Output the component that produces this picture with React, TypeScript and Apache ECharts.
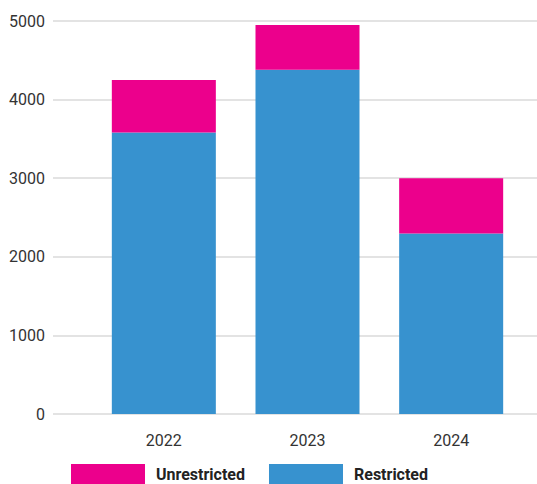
import React, { useEffect, useRef } from "react";
import * as echarts from "echarts";

const years = ["2022", "2023", "2024"];
const restricted = [3580, 4380, 2295];
const unrestricted = [670, 570, 705];
const yTicks = { min: 0, max: 5000, interval: 1000 };

const PINK = "#EC008C";
const BLUE = "#3792CF";
const FONT = "Roboto";

export default function App() {
  const ref = useRef<HTMLDivElement>(null);
  useEffect(() => {
    if (!ref.current) return;
    const chart = echarts.init(ref.current, undefined, { renderer: "svg" });
    chart.setOption({
      animation: false,
      textStyle: { fontFamily: FONT },
      grid: [
        { left: 53, right: 0, top: 21, bottom: 70 },
        { left: 92, right: 14, top: 21, bottom: 70 },
      ],
      legend: {
        data: ["Unrestricted", "Restricted"],
        left: 71,
        top: 464,
        padding: 0,
        itemWidth: 74,
        itemHeight: 20,
        itemGap: 24,
        icon: "rect",
        textStyle: {
          fontFamily: FONT,
          fontWeight: "bold",
          fontSize: 16,
          color: "#222",
          padding: [6, 0, 0, 6],
        },
      },
      xAxis: [
        { type: "category", gridIndex: 0, data: years, show: false },
        {
          type: "category",
          gridIndex: 1,
          data: years,
          axisLine: { show: false },
          axisTick: { show: false },
          axisLabel: { fontFamily: FONT, fontSize: 16, color: "#333", margin: 18 },
        },
      ],
      yAxis: [
        {
          type: "value",
          gridIndex: 0,
          ...yTicks,
          axisLine: { show: false },
          axisTick: { show: false },
          axisLabel: {
            fontFamily: FONT,
            fontSize: 16,
            color: "#333",
            margin: 8,
            formatter: (v: number) => String(v),
          },
          splitLine: { lineStyle: { color: "#dadada", width: 1.5 } },
        },
        { type: "value", gridIndex: 1, ...yTicks, show: false, splitLine: { show: false } },
      ],
      series: [
        {
          name: "Restricted",
          type: "bar",
          stack: "total",
          xAxisIndex: 1,
          yAxisIndex: 1,
          barWidth: "72.4%",
          itemStyle: { color: BLUE },
          data: restricted,
        },
        {
          name: "Unrestricted",
          type: "bar",
          stack: "total",
          xAxisIndex: 1,
          yAxisIndex: 1,
          barWidth: "72.4%",
          itemStyle: { color: PINK },
          data: unrestricted,
        },
      ],
    });
    return () => chart.dispose();
  }, []);
  return <div ref={ref} style={{ width: 537, height: 484, position: "absolute", left: 0, top: 0 }} />;
}
